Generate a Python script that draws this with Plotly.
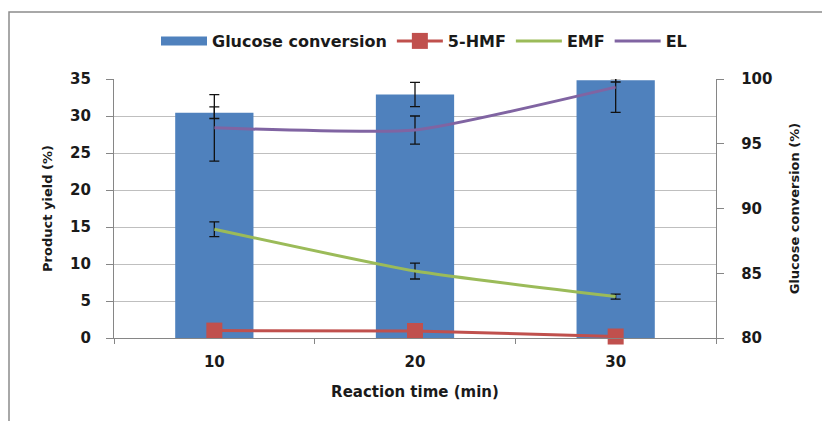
import plotly.graph_objects as go

times = ["10", "20", "30"]
glucose_conv = [97.4, 98.8, 99.9]
glucose_err = [0.45, 0.94, 0.13]
hmf = [1.0, 0.95, 0.2]
emf = [14.7, 9.05, 5.6]
emf_err = [1.0, 1.08, 0.34]
el = [28.4, 28.1, 33.9]
el_err = [4.5, 1.9, 3.4]

# page geometry (the page body has an 8 px margin)
OFF = 8
W, H = 830, 421
PL, PR, PT, PB = 114, 716, 79, 338   # plot area in page pixels
pw, ph = PR - PL, PB - PT

def px(xp):
    return (xp - PL) / pw

def py(yp):
    return (PB - yp) / ph

tick_font = dict(family="DejaVu Sans", size=15, color="#1a1a1a", weight="bold")
title_font = dict(family="DejaVu Sans", size=13, color="#1a1a1a", weight="bold")
xtitle_font = dict(family="DejaVu Sans", size=15, color="#1a1a1a", weight="bold")
err_style = dict(type="data", color="#111111", thickness=1.3, width=5, visible=True)
bar_col = "#4F81BD"

fig = go.Figure()
fig.add_trace(go.Bar(
    x=times, y=glucose_conv, name="Glucose conversion", yaxis="y",
    marker=dict(color=bar_col, line=dict(width=0)), width=0.39,
    error_y=dict(array=glucose_err, **err_style),
    showlegend=False, legendgroup="gc",
))
# legend key drawn as a wide block, like the original's legend
fig.add_trace(go.Scatter(
    x=[None], y=[None], name="Glucose conversion", yaxis="y", mode="lines",
    line=dict(color=bar_col, width=9), legendgroup="gc", hoverinfo="skip",
))
fig.add_trace(go.Scatter(
    x=times, y=hmf, name="5-HMF", yaxis="y2", mode="lines+markers",
    line=dict(color="#C0504D", width=3),
    marker=dict(symbol="square", size=16, color="#C0504D"),
    cliponaxis=False,
))
fig.add_trace(go.Scatter(
    x=times, y=emf, name="EMF", yaxis="y2", mode="lines",
    line=dict(color="#9BBB59", width=3, shape="spline", smoothing=0.5),
    error_y=dict(array=emf_err, **err_style),
))
fig.add_trace(go.Scatter(
    x=times, y=el, name="EL", yaxis="y2", mode="lines",
    line=dict(color="#8064A2", width=3, shape="spline", smoothing=0.5),
    error_y=dict(array=el_err, **err_style),
))

axis_col = "#868686"
fig.update_layout(
    width=W - OFF, height=H - OFF,
    margin=dict(l=PL - OFF, r=W - PR, t=PT - OFF, b=H - PB, autoexpand=False),
    paper_bgcolor="white", plot_bgcolor="white",
    showlegend=True,
    legend=dict(orientation="h", x=px(424), xanchor="center", y=py(41), yanchor="middle",
                font=dict(family="DejaVu Sans", size=16, color="#1a1a1a", weight="bold"),
                traceorder="normal", itemwidth=46, bgcolor="rgba(0,0,0,0)"),
    xaxis=dict(type="category", showline=True, linecolor=axis_col, linewidth=1.3,
               ticks="outside", tickson="boundaries", ticklen=5, tickcolor=axis_col,
               tickfont=tick_font, showgrid=False, ticklabelstandoff=10,
               title=dict(text="Reaction time (min)", font=xtitle_font, standoff=16)),
    yaxis=dict(side="right", range=[80, 100], dtick=5, showgrid=False, zeroline=False,
               showline=True, linecolor=axis_col, linewidth=1.3, ticks="outside",
               ticklen=7, tickcolor=axis_col, tickfont=tick_font, ticklabelstandoff=14,
               title=dict(text="Glucose conversion (%)", font=title_font, standoff=18)),
    yaxis2=dict(side="left", overlaying="y", range=[0, 35], dtick=5, showgrid=True,
                gridcolor="#BFBFBF", gridwidth=1.2, zeroline=False,
                showline=True, linecolor=axis_col, linewidth=1.3, ticks="outside",
                ticklen=7, tickcolor=axis_col, tickfont=tick_font, ticklabelstandoff=12,
                title=dict(text="Product yield (%)", font=title_font, standoff=14)),
    shapes=[dict(type="rect", xref="paper", yref="paper",
                 x0=px(9), x1=px(840), y0=py(430), y1=py(12),
                 line=dict(color="#8C8C8C", width=1.5), fillcolor="rgba(0,0,0,0)",
                 layer="below")],
)

fig.write_html("out.html")
